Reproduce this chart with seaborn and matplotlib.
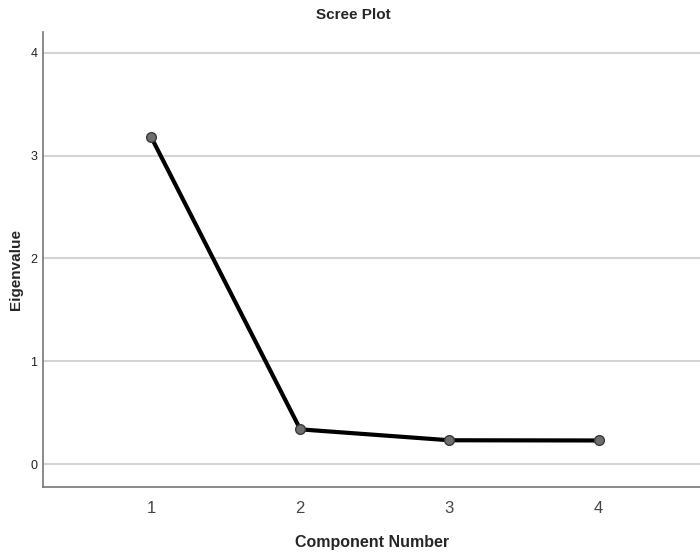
import matplotlib
matplotlib.use("Agg")
import matplotlib.pyplot as plt
import seaborn as sns
import pandas as pd

components = [1, 2, 3, 4]
eigenvalues = [3.18, 0.34, 0.234, 0.232]
y_ticks = [0, 1, 2, 3, 4]

sns.set_style("white")
plt.rcParams['font.family'] = ['Liberation Sans', 'DejaVu Sans']

df = pd.DataFrame({"Component Number": components, "Eigenvalue": eigenvalues})

fig = plt.figure(figsize=(7, 5.57), dpi=100)
ax = fig.add_axes([43/700, 70/557, 1 - 43/700, (487-32)/557])

for t in y_ticks:
    ax.axhline(t, color="#d4d4d4", lw=1.5, zorder=0)

sns.lineplot(data=df, x="Component Number", y="Eigenvalue", ax=ax, color="black",
             lw=3, marker="o", markersize=7, markerfacecolor="#6e6e6e",
             markeredgecolor="#3a3a3a", markeredgewidth=1, zorder=3)

ax.set_xlim(0.275, 4.68)
ax.set_ylim(-0.22, 4.2)
ax.set_xticks(components)
ax.set_yticks(y_ticks)
ax.tick_params(axis="x", length=0, labelsize=12, colors="#444444", pad=10)
ax.tick_params(axis="y", length=0, labelsize=9, colors="#222222", pad=4)
for s in ["top", "right"]:
    ax.spines[s].set_visible(False)
for s in ["left", "bottom"]:
    ax.spines[s].set_color("#777777")
    ax.spines[s].set_linewidth(1.2)

ax.set_xlabel("")
ax.set_ylabel("")
fig.text(372/700, 1 - 542/557, "Component Number", ha="center", va="center",
         fontsize=11.5, fontweight="bold")
fig.text(16/700, 1 - 270/557, "Eigenvalue", rotation=90, ha="center", va="center",
         fontsize=11, fontweight="bold")
fig.text(353/700, 1 - 15/557, "Scree Plot", ha="center", va="center",
         fontsize=11, fontweight="bold")

fig.savefig("out.png", dpi=100)
